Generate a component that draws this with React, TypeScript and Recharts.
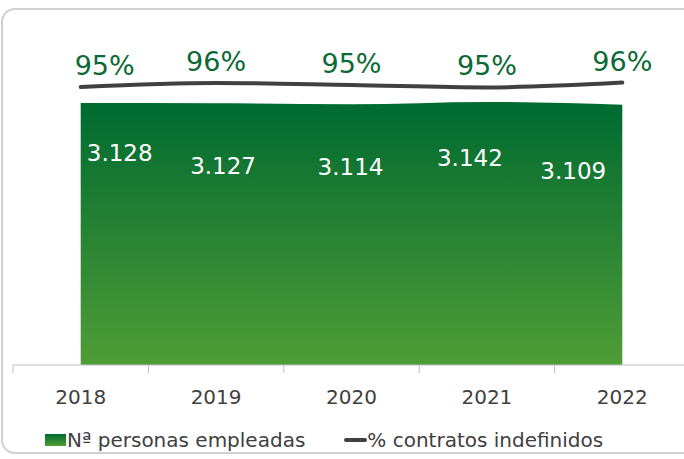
import { Area, ComposedChart, LabelList, Legend, Line, XAxis, YAxis } from 'recharts'

// Nº personas empleadas y % contratos indefinidos, 2018-2022
const years = ['2018', '2019', '2020', '2021', '2022']
const employees = [3128, 3127, 3114, 3142, 3109]
const employeeLabels = ['3.128', '3.127', '3.114', '3.142', '3.109']
const indefinitePct = [95.25, 95.75, 95.5, 95.2, 95.8]
const pctLabels = ['95%', '96%', '95%', '95%', '96%']

const data = years.map((year, i) => ({
  year,
  employees: employees[i],
  pct: indefinitePct[i],
}))

const FONT = "'DejaVu Sans', sans-serif"
const TEXT = '#404040'
const GREEN = '#0b6a36'
const STEP = 135.4

// hand-placed label nudges, as in the original deck
const valueNudge = [
  [39, 58],
  [7, 71],
  [-1, 71],
  [-17, 64],
  [-49, 74],
]
const pctNudge = [24, 0, 0, 0, 0]

const ValueLabel = (props: any) => {
  const { x, y, index } = props
  const [dx, dy] = valueNudge[index]
  return (
    <text x={x + dx} y={y + dy} textAnchor="middle" fill="#fff" fontSize={23} fontFamily={FONT}>
      {employeeLabels[index]}
    </text>
  )
}

const PctLabel = (props: any) => {
  const { x, y, index } = props
  return (
    <text x={x + pctNudge[index]} y={y - 12} textAnchor="middle" fill={GREEN} fontSize={27} fontFamily={FONT}>
      {pctLabels[index]}
    </text>
  )
}

const YearTick = (props: any) => {
  const { x, y, payload } = props
  const left = x - STEP / 2
  return (
    <g>
      <line x1={left} x2={left} y1={y - 8} y2={y} stroke="#bfbfbf" />
      <text x={x} y={y + 31} textAnchor="middle" fill={TEXT} fontSize={20} fontFamily={FONT}>
        {payload.value}
      </text>
    </g>
  )
}

const LegendContent = () => (
  <div style={{ display: 'flex', alignItems: 'center', fontFamily: FONT, fontSize: 20, color: TEXT, whiteSpace: 'nowrap' }}>
    <svg width={21} height={12} style={{ marginRight: 1 }}>
      <defs>
        <linearGradient id="legGrad" x1="0" y1="0" x2="0" y2="1">
          <stop offset="0%" stopColor="#006a31" />
          <stop offset="100%" stopColor="#4f9d36" />
        </linearGradient>
      </defs>
      <rect width={21} height={12} fill="url(#legGrad)" />
    </svg>
    <span>Nª personas empleadas</span>
    <svg width={23} height={6} style={{ marginLeft: 39 }}>
      <line x1={2} x2={21} y1={3} y2={3} stroke="#404040" strokeWidth={4} strokeLinecap="round" />
    </svg>
    <span>% contratos indefinidos</span>
  </div>
)

export default function App() {
  return (
    <div style={{ position: 'relative', width: 684, height: 459, overflow: 'hidden', background: '#fff' }}>
      <style>{'body{margin:0}'}</style>
      <div
        style={{
          position: 'absolute',
          left: 1,
          top: 8,
          width: 720,
          height: 446,
          border: '2px solid #d0d0d0',
          borderRadius: 14,
          boxSizing: 'border-box',
        }}
      />
      <div style={{ position: 'absolute', left: 0, top: 0 }}>
        <ComposedChart
          width={700}
          height={459}
          data={data}
          margin={{ top: 20, right: 10, bottom: 54, left: 13 }}
        >
          <defs>
            <linearGradient id="areaGrad" x1="0" y1="0" x2="0" y2="1">
              <stop offset="0%" stopColor="#006a31" />
              <stop offset="100%" stopColor="#4f9d36" />
            </linearGradient>
          </defs>
          <XAxis
            dataKey="year"
            scale="band"
            height={40}
            axisLine={{ stroke: '#bfbfbf' }}
            tickLine={false}
            tick={<YearTick />}
            interval={0}
          />
          <YAxis yAxisId="left" hide domain={[0, 4120]} />
          <YAxis yAxisId="right" orientation="right" hide domain={[60.6, 103.6]} />
          <Legend
            verticalAlign="middle"
            layout="horizontal"
            wrapperStyle={{ top: 428, left: 45, width: 620 }}
            content={<LegendContent />}
          />
          <Area
            yAxisId="left"
            dataKey="employees"
            type="monotone"
            fill="url(#areaGrad)"
            fillOpacity={1}
            stroke="none"
            isAnimationActive={false}
          >
            <LabelList dataKey="employees" content={<ValueLabel />} />
          </Area>
          <Line
            yAxisId="right"
            dataKey="pct"
            type="monotone"
            stroke="#404040"
            strokeWidth={4}
            strokeLinecap="round"
            dot={false}
            isAnimationActive={false}
          >
            <LabelList dataKey="pct" content={<PctLabel />} />
          </Line>
        </ComposedChart>
      </div>
    </div>
  )
}
